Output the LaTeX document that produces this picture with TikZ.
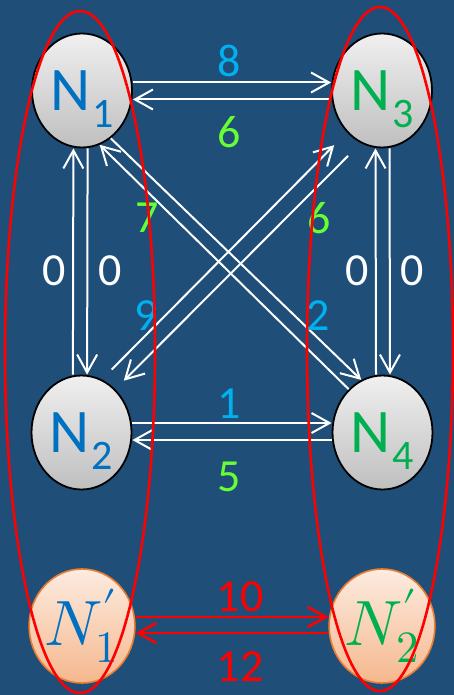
\documentclass[tikz,border=0pt]{standalone}
\usepackage{fontspec}
\usepackage{unicode-math}
\setmainfont{Carlito}
\setmathfont{Latin Modern Math}
\usepackage{xcolor}
\usepackage{tikz}
\usetikzlibrary{arrows.meta,shapes.geometric,positioning}

\definecolor{bgblue}{RGB}{31,78,121}
\definecolor{nblue}{RGB}{0,112,192}
\definecolor{ngreen}{RGB}{0,176,80}
\definecolor{lcyan}{RGB}{0,176,240}
\definecolor{llime}{RGB}{102,255,51}
\definecolor{porange}{RGB}{237,125,49}

\tikzset{
	gnode/.style={ellipse, draw=black, line width=0.9pt, minimum width=50pt, minimum height=57pt, inner sep=0pt,
			top color=gray!12, bottom color=gray!50, font=\fontsize{31}{31}\selectfont, text depth=0pt},
	pnode/.style={ellipse, draw=porange, line width=0.8pt, minimum width=50pt, minimum height=57pt, inner sep=0pt,
			top color=porange!15, bottom color=porange!55, font=\fontsize{32}{32}\selectfont},
	arr/.style={-{Straight Barb[length=9pt,width=10pt]}, white, line width=1pt},
	rarr/.style={arr, red, line width=1.3pt},
	lbl/.style={inner sep=0pt, font=\fontsize{23}{23}\selectfont},
	grp/.style={red, line width=1.3pt},
}
\newcommand{\Nsub}[1]{N\kern1pt\raisebox{-8.5pt}{\fontsize{21}{21}\selectfont #1}}

\begin{document}
\begin{tikzpicture}[x=0.5pt, y=-0.5pt]
		\fill[bgblue] (0,0) rectangle (454,695);
		\useasboundingbox (0,0) rectangle (454,695);

		% nodes
		\node[gnode, text=nblue] (n1) at (82,90.5) {\Nsub{1}};
		\node[gnode, text=ngreen] (n3) at (382,90.5) {\Nsub{3}};
		\node[gnode, text=nblue] (n2) at (81.5,432.5) {\Nsub{2}};
		\node[gnode, text=ngreen] (n4) at (382.5,432.5) {\Nsub{4}};
		\node[pnode, text=nblue] (p1) at (82,626) {\raisebox{-4pt}{$N'_1$}};
		\node[pnode, text=ngreen] (p2) at (382,626) {\raisebox{-4pt}{$N'_2$}};

		% horizontal arrows
		\draw[arr] ([yshift=4pt]n1.east) -- ([yshift=4pt]n3.west);
		\draw[arr] ([yshift=-4.5pt]n3.west) -- ([yshift=-4.5pt]n1.east);
		\draw[arr] ([yshift=4.75pt]n2.east) -- ([yshift=4.75pt]n4.west);
		\draw[arr] ([yshift=-3.75pt]n4.west) -- ([yshift=-3.75pt]n2.east);
		\draw[rarr] ([yshift=4.5pt]p1.east) -- ([yshift=4.5pt]p2.west);
		\draw[rarr] ([yshift=-3.5pt]p2.west) -- ([yshift=-3.5pt]p1.east);

		% vertical arrows
		\draw[arr] ([xshift=-4.3pt]n2.north) -- ([xshift=-4.3pt]n1.south);
		\draw[arr] ([xshift=2.8pt]n1.south) -- ([xshift=2.8pt]n2.north);
		\draw[arr] ([xshift=-3.25pt]n4.north) -- ([xshift=-3.25pt]n3.south);
		\draw[arr] ([xshift=3.75pt]n3.south) -- ([xshift=3.75pt]n4.north);

		% diagonal arrows
		\draw[arr] (n1.-59) -- (n4.112);
		\draw[arr] (n4.128) -- (n1.-72);
		\draw[arr, shorten <=7pt, shorten >=9pt] (n2.69) -- (n3.-130.5);
		\draw[arr, shorten <=9pt, shorten >=6pt] (n3.-112.7) -- (n2.52.6);

		% weights
		\foreach \nm/\x/\y/\col/\w in {w13/229/61/lcyan/8, w31/229/132/llime/6,
				w24/229/404/lcyan/1, w42/229/477/llime/5,
				w21/54/271/white/0, w12/110/271/white/0, w43/357/271/white/0, w34/412/271/white/0,
				w14a/147/218/llime/7, w32/319/218/llime/6, w23/146/316/lcyan/9, w14b/318/316/lcyan/2,
				wp12/240/597/red/10, wp21/240/667/red/12} {
				\node[lbl, text=\col] (\nm) at (\x,\y) {\w};
			}

		% groups
		\draw[grp] (80,352) ellipse [x radius=37.5pt, y radius=170.5pt];
		\draw[grp] (380,349) ellipse [x radius=36.5pt, y radius=171pt];
	\end{tikzpicture}
\end{document}
